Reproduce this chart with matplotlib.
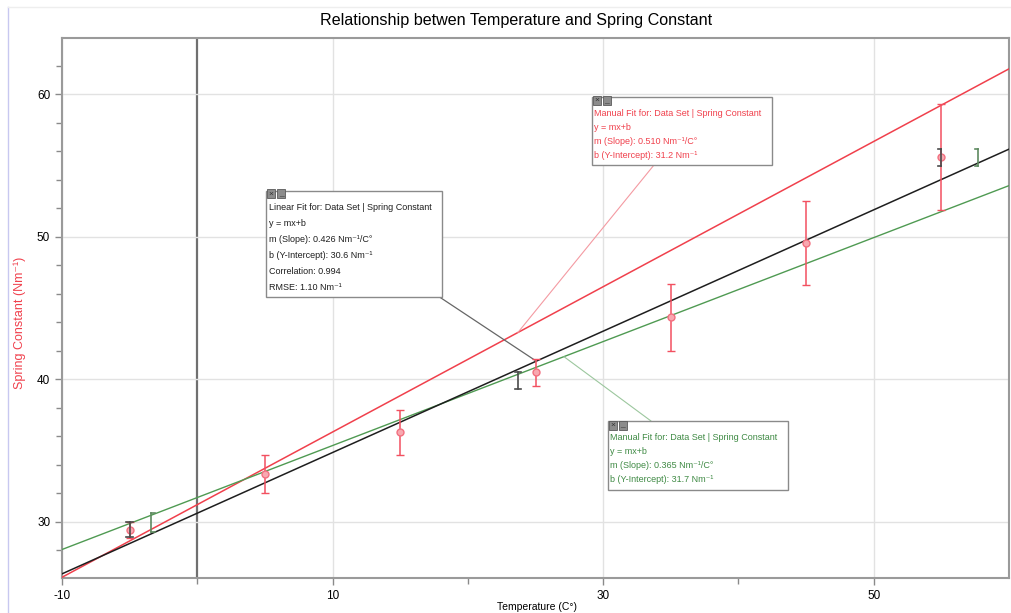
import matplotlib
matplotlib.use("Agg")
import matplotlib.pyplot as plt
from matplotlib.patches import Rectangle
from matplotlib.lines import Line2D

plt.rcParams["font.family"] = ["Liberation Sans", "DejaVu Sans"]
plt.rcParams["axes.unicode_minus"] = False

# measured data (temperature in C, spring constant in N/m)
temps = [-5, 5, 15, 25, 35, 45, 55]
spring_k = [29.4, 33.35, 36.3, 40.5, 44.35, 49.6, 55.6]
spring_err = [0.55, 1.33, 1.58, 0.94, 2.34, 2.95, 3.7]

# fits: (slope, intercept)
linear_fit = (0.426, 30.6)
manual_red = (0.510, 31.2)
manual_green = (0.365, 31.7)

# fit range brackets: x, y low, y high, side
black_brackets = [(-5, 28.9, 30.0, "I"), (55, 54.95, 56.2, "]"), (23.7, 39.35, 40.5, "I")]
green_brackets = [(-3.4, 29.3, 30.6, "["), (57.7, 54.95, 56.2, "]")]

x_major = [-10, 10, 30, 50]
x_minor = [0, 20, 40]
y_major = [30, 40, 50, 60]

RED = "#f0404c"
GREEN = "#4f9a52"
BLACK = "#1e1e1e"
W, H = 1011, 613


def px(x, y):
    # figure pixel (top-left origin) -> figure fraction
    return x / W, 1 - y / H


def fit_y(fit, x):
    return fit[0] * x + fit[1]


def draw_bracket(ax, x, lo, hi, side, color):
    d = 0.25
    ax.plot([x, x], [lo, hi], color=color, lw=1.2, zorder=6)
    if side == "[":
        segs = [(x, x + d)]
    elif side == "]":
        segs = [(x - d, x)]
    else:
        segs = [(x - d, x + d)]
    for a, b in segs:
        ax.plot([a, b], [lo, lo], color=color, lw=1.2, zorder=6)
        ax.plot([a, b], [hi, hi], color=color, lw=1.2, zorder=6)


def info_box(fig, left, top, right, bottom, lines, color, line_gap, first_y):
    x0, y0 = px(left, bottom)
    x1, y1 = px(right, top)
    fig.add_artist(Rectangle((x0, y0), x1 - x0, y1 - y0, transform=fig.transFigure,
                             facecolor="white", edgecolor="#8a8a8a", lw=1.0, zorder=5))
    # close / minimise icons
    for i, sym in enumerate(["×", "_"]):
        ix = left + 1 + i * 10
        a, b = px(ix, top + 8)
        fig.add_artist(Rectangle((a, b), 8 / W, 9 / H, transform=fig.transFigure,
                                 facecolor="#8c8c8c", edgecolor="#5a5a5a", lw=0.6, zorder=6))
        tx, ty = px(ix + 4, top + 3.5)
        fig.text(tx, ty, sym, fontsize=6, color="#333333", ha="center", va="center", zorder=7)
    for i, s in enumerate(lines):
        tx, ty = px(left + 3, first_y + i * line_gap)
        fig.text(tx, ty, s, fontsize=6.5, color=color, ha="left", va="center", zorder=7)


fig = plt.figure(figsize=(W / 100, H / 100), dpi=100)
ax = fig.add_axes([62 / W, (H - 577.7) / H, 947 / W, 540.2 / H])

ax.set_xlim(-10, 60)
ax.set_ylim(26.07, 64.0)

ax.set_xticks(x_major)
ax.set_xticks(x_minor, minor=True)
ax.set_yticks(y_major)
ax.set_yticks([v for v in range(28, 64, 2) if v not in y_major], minor=True)
ax.tick_params(which="both", direction="out", color="#8a8a8a", labelsize=8.5, width=1)
ax.tick_params(which="major", length=5)
ax.tick_params(which="minor", length=4)
ax.grid(True, which="major", color="#e2e2e2", lw=1, zorder=0)
for s in ax.spines.values():
    s.set_color("#9a9a9a")
    s.set_linewidth(1.5)

ax.axvline(0, color="#707070", lw=1.6, zorder=1)

xs = [-10, 60]
ax.plot(xs, [fit_y(manual_red, x) for x in xs], color=RED, lw=1.1, zorder=3)
ax.plot(xs, [fit_y(manual_green, x) for x in xs], color=GREEN, lw=1.0, zorder=3)
ax.plot(xs, [fit_y(linear_fit, x) for x in xs], color=BLACK, lw=1.1, zorder=3)

ax.errorbar(temps, spring_k, yerr=spring_err, fmt="o", ms=5, mfc="#f8a8b0", mec="#f27080",
            mew=1, ecolor="#f25060", elinewidth=1.1, capsize=3, capthick=1, zorder=5)

for b in black_brackets:
    draw_bracket(ax, *b, color="#4a4a4a")
for b in green_brackets:
    draw_bracket(ax, *b, color="#5e8a60")

# connectors from info boxes to their lines
ax.annotate("", xy=(25.06, fit_y(linear_fit, 25.06)), xycoords="data",
            xytext=px(438, 296), textcoords="figure fraction",
            arrowprops=dict(arrowstyle="-", color="#666666", lw=0.9, shrinkA=0, shrinkB=0))
ax.annotate("", xy=(23.7, fit_y(manual_red, 23.7)), xycoords="data",
            xytext=px(654, 165), textcoords="figure fraction",
            arrowprops=dict(arrowstyle="-", color="#f49aa2", lw=0.8, shrinkA=0, shrinkB=0))
ax.annotate("", xy=(27.1, fit_y(manual_green, 27.1)), xycoords="data",
            xytext=px(651, 421), textcoords="figure fraction",
            arrowprops=dict(arrowstyle="-", color="#9cc79e", lw=0.8, shrinkA=0, shrinkB=0))

info_box(fig, 266, 190.5, 442, 296.5,
         ["Linear Fit for: Data Set | Spring Constant", "y = mx+b",
          f"m (Slope): {linear_fit[0]:.3f} Nm⁻¹/C°", f"b (Y-Intercept): {linear_fit[1]:.1f} Nm⁻¹",
          "Correlation: 0.994", "RMSE: 1.10 Nm⁻¹"],
         BLACK, 16, 207.5)
info_box(fig, 591.5, 97, 772, 165,
         ["Manual Fit for: Data Set | Spring Constant", "y = mx+b",
          f"m (Slope): {manual_red[0]:.3f} Nm⁻¹/C°", f"b (Y-Intercept): {manual_red[1]:.1f} Nm⁻¹"],
         RED, 14, 113)
info_box(fig, 607.5, 421.5, 788, 489.5,
         ["Manual Fit for: Data Set | Spring Constant", "y = mx+b",
          f"m (Slope): {manual_green[0]:.3f} Nm⁻¹/C°", f"b (Y-Intercept): {manual_green[1]:.1f} Nm⁻¹"],
         "#3f8a44", 14, 437)

fig.text(*px(516, 20), "Relationship betwen Temperature and Spring Constant",
         fontsize=11.6, ha="center", va="center")
fig.text(*px(537, 607), "Temperature (C°)", fontsize=7.5, ha="center", va="center")
fig.text(*px(20, 323), "Spring Constant (Nm⁻¹)", fontsize=9, color=RED,
         rotation=90, ha="center", va="center")

# window frame edges
fig.add_artist(Line2D([8 / W, 8 / W], [0, 1 - 7 / H], transform=fig.transFigure,
                      color="#c8c8f0", lw=1))
fig.add_artist(Line2D([8 / W, 1], [1 - 7 / H, 1 - 7 / H], transform=fig.transFigure,
                      color="#eeeeee", lw=1))

fig.savefig("out.png", dpi=100)
